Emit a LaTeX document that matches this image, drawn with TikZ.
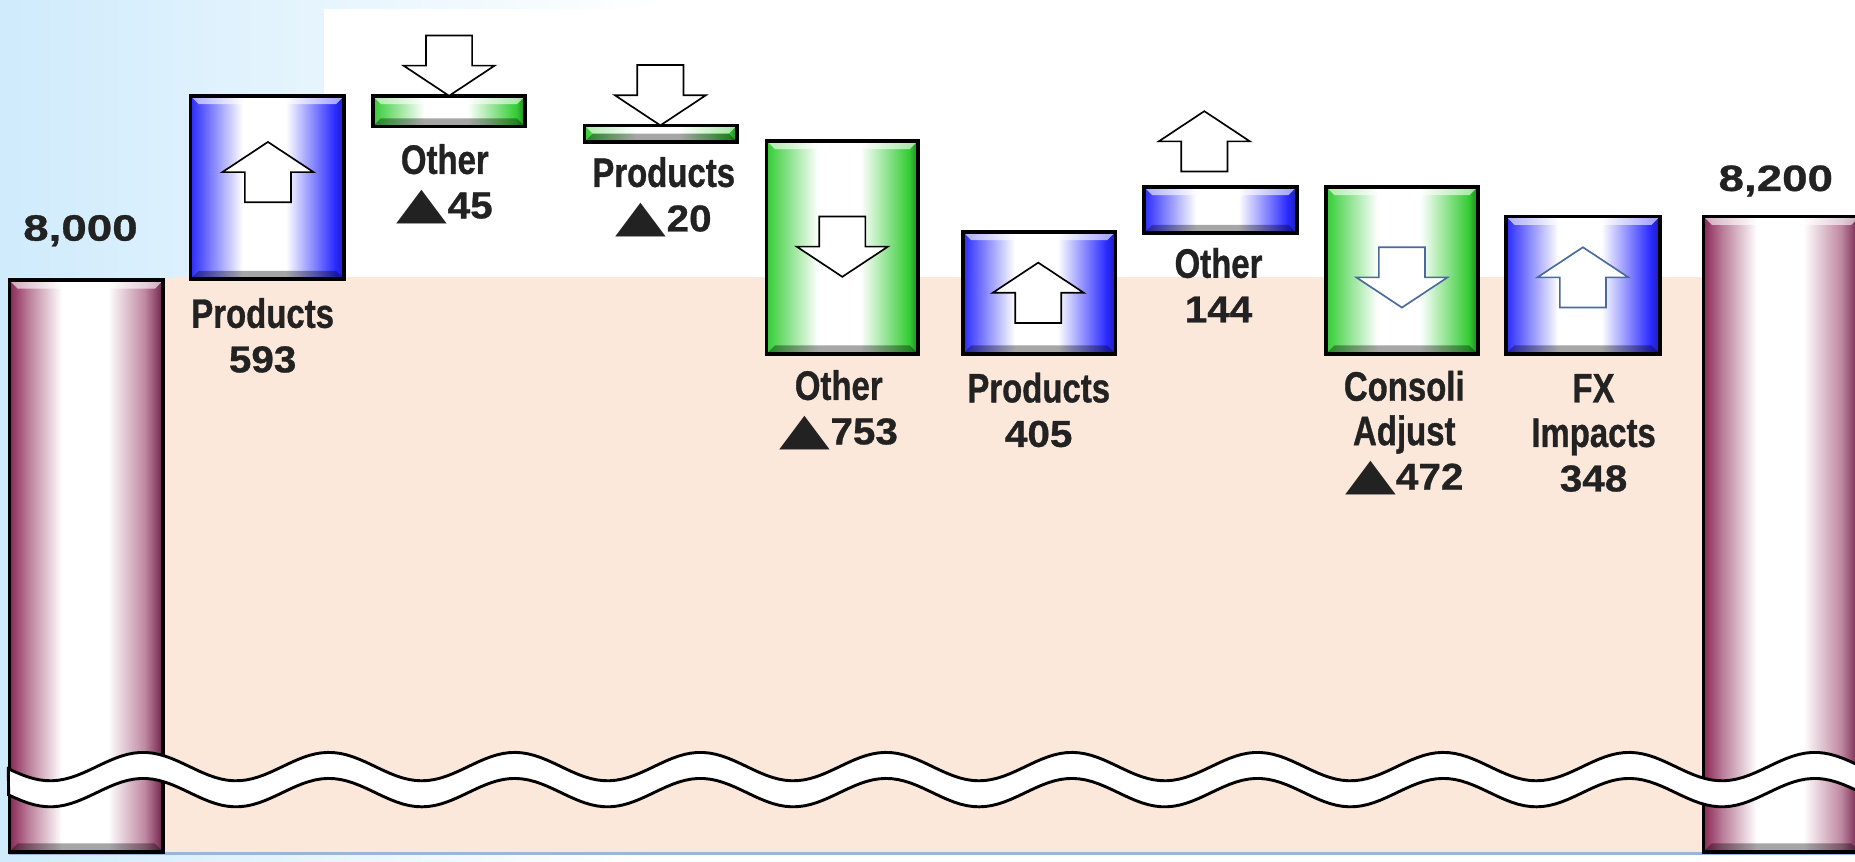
\documentclass[tikz,border=0pt]{standalone}
\usepackage{fontspec}
\setmainfont{Liberation Sans}
\newfontfamily\lletra{Liberation Sans}[FakeStretch=0.8, BoldFeatures={FakeBold=0.8}]
\newfontfamily\xifrafont{Liberation Sans}[FakeStretch=1.08, BoldFeatures={FakeBold=0.8}]
\newfontfamily\totalfont{Liberation Sans}[FakeStretch=1.25, BoldFeatures={FakeBold=0.8}]
\newfontfamily\trifont{DejaVu Sans}

\definecolor{cel}{HTML}{CFEBFC}
\definecolor{pell}{HTML}{FCE8DA}
\definecolor{blau}{HTML}{2A2AFF}
\definecolor{verd}{HTML}{34CC34}
\definecolor{granat}{HTML}{8A2655}
\definecolor{tinta}{HTML}{222222}
\definecolor{vorablava}{HTML}{4A6A9E}
\definecolor{ombra}{HTML}{9AB4DA}

% Ombrejats de les barres: vora de color, centre blanc.
\pgfdeclarehorizontalshading{barrablava}{100bp}{color(0bp)=(blau); color(25bp)=(blau);
  color(42bp)=(white); color(56bp)=(white); color(72bp)=(blau); color(75bp)=(blau!70!black);
  color(100bp)=(blau!70!black)}
\pgfdeclarehorizontalshading{barraverda}{100bp}{color(0bp)=(verd); color(25bp)=(verd);
  color(42bp)=(white); color(56bp)=(white); color(72bp)=(verd); color(75bp)=(verd!65!black);
  color(100bp)=(verd!65!black)}
\pgfdeclarehorizontalshading{barragranat}{100bp}{color(0bp)=(granat); color(25bp)=(granat);
  color(31bp)=(granat!60!white); color(42bp)=(white); color(57bp)=(white);
  color(69bp)=(granat!55!white); color(75bp)=(granat!80!black); color(100bp)=(granat!80!black)}

\tikzset{
  contorn/.style={draw=black, line width=.9pt},
  bisell clar/.style={white, opacity=.6},
  bisell fosc/.style={black, opacity=.35},
  fletxa/.style={fill=white, line width=.4pt, line join=miter},
  ona/.style={fill=white, draw=black, line width=.7pt},
  rotul/.style={text=tinta, align=center, font=\lletra\bfseries\fontsize{9.9}{10.7}\selectfont},
  total/.style={text=tinta, font=\totalfont\bfseries\fontsize{8.8}{11}\selectfont},
  amunt/.pic={\filldraw[fletxa] (0,0) -- (.385,-.255) -- (.195,-.255) -- (.195,-.51)
    -- (-.195,-.51) -- (-.195,-.255) -- (-.385,-.255) -- cycle;},
  avall/.pic={\filldraw[fletxa] (0,0) -- (.385,.255) -- (.195,.255) -- (.195,.51)
    -- (-.195,.51) -- (-.195,.255) -- (-.385,.255) -- cycle;},
}

% Barra amb bisells: #1 ombrejat, (#2,#3) cantó inferior, (#4,#5) cantó superior.
\newcommand{\barra}[5]{%
  \shade[shading=#1] (#2,#3) rectangle (#4,#5);
  \fill[bisell clar] (#2,#5) -- (#4,#5) -- ([shift={(-.07,-.07)}]#4,#5)
    -- ([shift={(.07,-.07)}]#2,#5) -- cycle;
  \fill[bisell fosc] (#2,#3) -- (#4,#3) -- ([shift={(-.07,.07)}]#4,#3)
    -- ([shift={(.07,.07)}]#2,#3) -- cycle;
  \draw[contorn] (#2,#3) rectangle (#4,#5);}
\newcommand{\xifra}[1]{{\xifrafont\bfseries\fontsize{9}{10.7}\selectfont #1}}
% Triangle de les xifres negatives, més ample que alt.
\newcommand{\tri}{{\trifont\fontsize{10.6}{10}\selectfont\scalebox{1.5}[1]{▲}}}

\begin{document}
\begin{tikzpicture}[x=1cm,y=1cm]
  \useasboundingbox (0,0) rectangle (15.68,7.28);
  \clip (0,0) rectangle (15.68,7.28);

  % Fons.
  \shade[left color=cel, right color=white] (0,0) rectangle (5.6,7.28);
  \fill[white] (5.6,0) rectangle (15.68,7.28);
  \fill[white] (2.74,4.94) rectangle (15.68,7.20);
  \fill[ombra] (0.08,0.05) rectangle (15.68,0.08);
  \fill[pell] (0.08,0.08) rectangle (15.68,4.94);

  % Columnes dels totals.
  \barra{barragranat}{0.08}{0.08}{1.38}{4.91}
  \barra{barragranat}{14.40}{0.08}{15.72}{5.45}

  % Variacions.
  \barra{barrablava}{1.61}{4.92}{2.91}{6.47}
  \barra{barraverda}{3.15}{6.21}{4.44}{6.47}
  \barra{barraverda}{4.94}{6.08}{6.23}{6.22}
  \barra{barraverda}{6.48}{4.29}{7.76}{6.09}
  \barra{barrablava}{8.14}{4.29}{9.43}{5.32}
  \barra{barrablava}{9.67}{5.31}{10.96}{5.70}
  \barra{barraverda}{11.21}{4.29}{12.49}{5.70}
  \barra{barrablava}{12.73}{4.29}{14.03}{5.45}

  % Fletxes de sentit.
  \pic at (2.265,6.08) {amunt};
  \pic at (3.796,6.47) {avall};
  \pic at (5.582,6.22) {avall};
  \pic at (7.12,4.94) {avall};
  \pic at (8.776,5.06) {amunt};
  \pic at (10.18,6.34) {amunt};
  \pic[vorablava] at (11.85,4.68) {avall};
  \pic[vorablava] at (13.38,5.19) {amunt};

  % Tall de l'eix: banda ondulada.
  \filldraw[ona] plot[domain=0.07:15.9, samples=300]
      (\x,{0.80+0.12*cos(360*(\x-1.21)/1.57)})
    -- plot[domain=15.9:0.07, samples=300]
      (\x,{0.58+0.12*cos(360*(\x-1.21)/1.57)}) -- cycle;

  % Rètols.
  \node[total] (inici) at (0.68,5.33) {8,000};
  \node[total] (final) at (15.01,5.75) {8,200};
  \node[rotul] (p593) at (2.22,4.445) {Products\\\xifra{593}};
  \node[rotul] (a45) at (3.76,5.725) {Other\\\xifra{\tri45}};
  \node[rotul] (p20) at (5.61,5.615) {Products\\\xifra{\tri20}};
  \node[rotul] (a753) at (7.09,3.815) {Other\\\xifra{\tri753}};
  \node[rotul] (p405) at (8.78,3.815) {Products\\\xifra{405}};
  \node[rotul] (a144) at (10.30,4.87) {Other\\\xifra{144}};
  \node[rotul] (c472) at (11.87,3.62) {Consoli\\Adjust\\\xifra{\tri472}};
  \node[rotul] (fx348) at (13.47,3.62) {FX\\Impacts\\\xifra{348}};
\end{tikzpicture}
\end{document}
